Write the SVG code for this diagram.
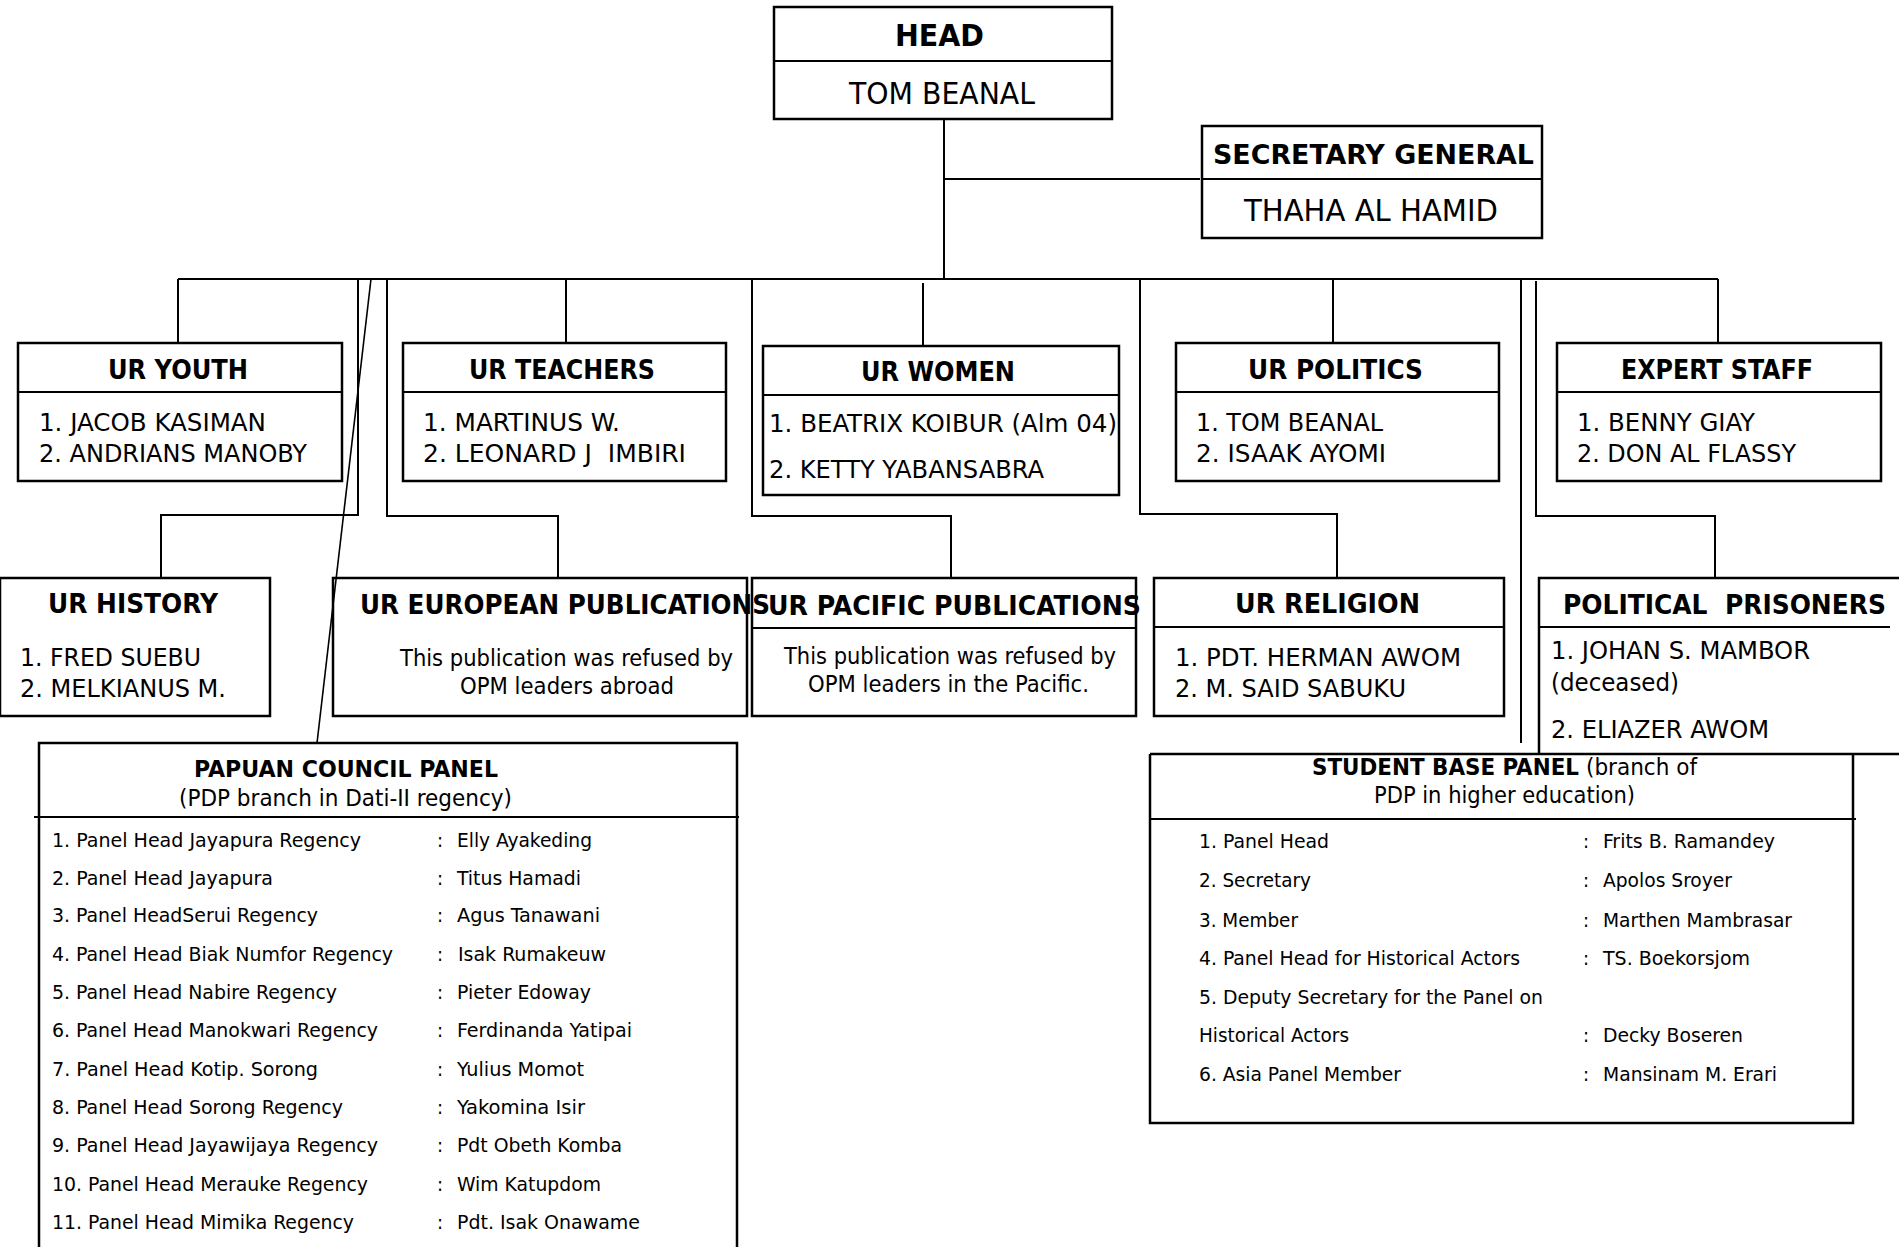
<svg xmlns="http://www.w3.org/2000/svg" width="1899" height="1247" viewBox="0 0 1899 1247">
<style>
.box{fill:none;stroke:#000;stroke-width:2.5}
.ln{fill:none;stroke:#000;stroke-width:2}
.thin{fill:none;stroke:#000;stroke-width:1.6}
text{font-family:"DejaVu Sans Condensed","DejaVu Sans","Liberation Sans",sans-serif;fill:#000}
.b{font-weight:bold}
.t30{font-size:30px}
.t27{font-size:27px}
.t26{font-size:26px}
.t25{font-size:25.5px}
.t22{font-size:22.5px}
.t20{font-size:20px}
</style>
<rect width="1899" height="1247" fill="#fff"/>
<g id="connectors">
<path class="ln" d="M944 119V279M944 179H1200M178 279H1718"/>
<path class="ln" d="M178 279V343M566 279V343M923 283V346M1333 279V343M1718 279V343"/>
<path class="ln" d="M358 279V515H161V578"/>
<path class="thin" d="M371 279L317 743"/>
<path class="ln" d="M387 279V516H558V578"/>
<path class="ln" d="M752 279V516H951V578"/>
<path class="ln" d="M1140 279V514H1337V578"/>
<path class="ln" d="M1521 279V743"/>
<path class="ln" d="M1536 281V516H1715V578"/>
</g>
<g id="head">
<rect class="box" x="774" y="7" width="338" height="112"/>
<path class="ln" d="M774 61H1112"/>
<text class="b t30" x="895" y="46" textLength="89" lengthAdjust="spacingAndGlyphs">HEAD</text>
<text class="t30" x="849" y="104" textLength="186" lengthAdjust="spacingAndGlyphs">TOM BEANAL</text>
</g>
<g id="secretary-general">
<rect class="box" x="1202" y="126" width="340" height="112"/>
<path class="ln" d="M1202 179H1542"/>
<text class="b t27" x="1213" y="164" textLength="321" lengthAdjust="spacingAndGlyphs">SECRETARY GENERAL</text>
<text class="t30" x="1244" y="221" textLength="254" lengthAdjust="spacingAndGlyphs">THAHA AL HAMID</text>
</g>
<g id="ur-youth">
<rect class="box" x="18" y="343" width="324" height="138"/>
<path class="ln" d="M18 392H342"/>
<text class="b t26" x="108" y="379" textLength="140" lengthAdjust="spacingAndGlyphs">UR YOUTH</text>
<text class="t25" x="39" y="431" textLength="227" lengthAdjust="spacingAndGlyphs">1. JACOB KASIMAN</text>
<text class="t25" x="39" y="462" textLength="268" lengthAdjust="spacingAndGlyphs">2. ANDRIANS MANOBY</text>
</g>
<g id="ur-teachers">
<rect class="box" x="403" y="343" width="323" height="138"/>
<path class="ln" d="M403 392H726"/>
<text class="b t26" x="469" y="379" textLength="186" lengthAdjust="spacingAndGlyphs">UR TEACHERS</text>
<text class="t25" x="423" y="431" textLength="197" lengthAdjust="spacingAndGlyphs">1. MARTINUS W.</text>
<text class="t25" x="423" y="462" textLength="263" lengthAdjust="spacingAndGlyphs" xml:space="preserve">2. LEONARD J  IMBIRI</text>
</g>
<g id="ur-women">
<rect class="box" x="763" y="346" width="356" height="149"/>
<path class="ln" d="M763 395H1119"/>
<text class="b t26" x="861" y="381" textLength="154" lengthAdjust="spacingAndGlyphs">UR WOMEN</text>
<text class="t25" x="769" y="432" textLength="348" lengthAdjust="spacingAndGlyphs">1. BEATRIX KOIBUR (Alm 04)</text>
<text class="t25" x="769" y="478" textLength="275" lengthAdjust="spacingAndGlyphs">2. KETTY YABANSABRA</text>
</g>
<g id="ur-politics">
<rect class="box" x="1176" y="343" width="323" height="138"/>
<path class="ln" d="M1176 392H1499"/>
<text class="b t26" x="1248" y="379" textLength="175" lengthAdjust="spacingAndGlyphs">UR POLITICS</text>
<text class="t25" x="1196" y="431" textLength="187" lengthAdjust="spacingAndGlyphs">1. TOM BEANAL</text>
<text class="t25" x="1196" y="462" textLength="190" lengthAdjust="spacingAndGlyphs">2. ISAAK AYOMI</text>
</g>
<g id="expert-staff">
<rect class="box" x="1557" y="343" width="324" height="138"/>
<path class="ln" d="M1557 392H1881"/>
<text class="b t26" x="1621" y="379" textLength="192" lengthAdjust="spacingAndGlyphs">EXPERT STAFF</text>
<text class="t25" x="1577" y="431" textLength="178" lengthAdjust="spacingAndGlyphs">1. BENNY GIAY</text>
<text class="t25" x="1577" y="462" textLength="219" lengthAdjust="spacingAndGlyphs">2. DON AL FLASSY</text>
</g>
<g id="ur-history">
<rect class="box" x="0" y="578" width="270" height="138"/>
<text class="b t26" x="48" y="613" textLength="170" lengthAdjust="spacingAndGlyphs">UR HISTORY</text>
<text class="t25" x="20" y="666" textLength="181" lengthAdjust="spacingAndGlyphs">1. FRED SUEBU</text>
<text class="t25" x="20" y="697" textLength="206" lengthAdjust="spacingAndGlyphs">2. MELKIANUS M.</text>
</g>
<g id="ur-european-publications">
<rect class="box" x="333" y="578" width="414" height="138"/>
<text class="b t26" x="360" y="614" textLength="410" lengthAdjust="spacingAndGlyphs">UR EUROPEAN PUBLICATIONS</text>
<text class="t22" x="400" y="666" textLength="333" lengthAdjust="spacingAndGlyphs">This publication was refused by</text>
<text class="t22" x="460" y="694" textLength="214" lengthAdjust="spacingAndGlyphs">OPM leaders abroad</text>
</g>
<g id="ur-pacific-publications">
<rect class="box" x="752" y="578" width="384" height="138"/>
<path class="ln" d="M752 628H1136"/>
<text class="b t26" x="768" y="615" textLength="373" lengthAdjust="spacingAndGlyphs">UR PACIFIC PUBLICATIONS</text>
<text class="t22" x="784" y="664" textLength="332" lengthAdjust="spacingAndGlyphs">This publication was refused by</text>
<text class="t22" x="808" y="692" textLength="281" lengthAdjust="spacingAndGlyphs">OPM leaders in the Pacific.</text>
</g>
<g id="ur-religion">
<rect class="box" x="1154" y="578" width="350" height="138"/>
<path class="ln" d="M1154 627H1504"/>
<text class="b t26" x="1235" y="613" textLength="185" lengthAdjust="spacingAndGlyphs">UR RELIGION</text>
<text class="t25" x="1175" y="666" textLength="286" lengthAdjust="spacingAndGlyphs">1. PDT. HERMAN AWOM</text>
<text class="t25" x="1175" y="697" textLength="231" lengthAdjust="spacingAndGlyphs">2. M. SAID SABUKU</text>
</g>
<g id="political-prisoners">
<path class="box" d="M1539 754V578H1899"/>
<path class="ln" d="M1539 627H1890"/>
<text class="b t26" x="1563" y="614" textLength="323" lengthAdjust="spacingAndGlyphs" xml:space="preserve">POLITICAL  PRISONERS</text>
<text class="t25" x="1551" y="659" textLength="259" lengthAdjust="spacingAndGlyphs">1. JOHAN S. MAMBOR</text>
<text class="t25" x="1551" y="691" textLength="128" lengthAdjust="spacingAndGlyphs">(deceased)</text>
<text class="t25" x="1551" y="738" textLength="218" lengthAdjust="spacingAndGlyphs">2. ELIAZER AWOM</text>
</g>
<g id="papuan-council-panel">
<path class="box" d="M39 1250V743H737V1250"/>
<path class="ln" d="M34 817H739"/>
<text class="b t22" x="194" y="777" textLength="304" lengthAdjust="spacingAndGlyphs">PAPUAN COUNCIL PANEL</text>
<text class="t22" x="179" y="806" textLength="333" lengthAdjust="spacingAndGlyphs">(PDP branch in Dati-II regency)</text>
<g class="t20">
<text x="52" y="847" textLength="309" lengthAdjust="spacingAndGlyphs">1. Panel Head Jayapura Regency</text>
<text x="52" y="885" textLength="221" lengthAdjust="spacingAndGlyphs">2. Panel Head Jayapura</text>
<text x="52" y="922" textLength="266" lengthAdjust="spacingAndGlyphs">3. Panel HeadSerui Regency</text>
<text x="52" y="961" textLength="341" lengthAdjust="spacingAndGlyphs">4. Panel Head Biak Numfor Regency</text>
<text x="52" y="999" textLength="285" lengthAdjust="spacingAndGlyphs">5. Panel Head Nabire Regency</text>
<text x="52" y="1037" textLength="326" lengthAdjust="spacingAndGlyphs">6. Panel Head Manokwari Regency</text>
<text x="52" y="1076" textLength="266" lengthAdjust="spacingAndGlyphs">7. Panel Head Kotip. Sorong</text>
<text x="52" y="1114" textLength="291" lengthAdjust="spacingAndGlyphs">8. Panel Head Sorong Regency</text>
<text x="52" y="1152" textLength="326" lengthAdjust="spacingAndGlyphs">9. Panel Head Jayawijaya Regency</text>
<text x="52" y="1191" textLength="316" lengthAdjust="spacingAndGlyphs">10. Panel Head Merauke Regency</text>
<text x="52" y="1229" textLength="302" lengthAdjust="spacingAndGlyphs">11. Panel Head Mimika Regency</text>
<text x="437" y="847">:</text><text x="437" y="885">:</text><text x="437" y="922">:</text><text x="437" y="961">:</text><text x="437" y="999">:</text><text x="437" y="1037">:</text><text x="437" y="1076">:</text><text x="437" y="1114">:</text><text x="437" y="1152">:</text><text x="437" y="1191">:</text><text x="437" y="1229">:</text>
<text x="457" y="847" textLength="135" lengthAdjust="spacingAndGlyphs">Elly Ayakeding</text>
<text x="457" y="885" textLength="124" lengthAdjust="spacingAndGlyphs">Titus Hamadi</text>
<text x="457" y="922" textLength="143" lengthAdjust="spacingAndGlyphs">Agus Tanawani</text>
<text x="458" y="961" textLength="148" lengthAdjust="spacingAndGlyphs">Isak Rumakeuw</text>
<text x="457" y="999" textLength="134" lengthAdjust="spacingAndGlyphs">Pieter Edoway</text>
<text x="457" y="1037" textLength="175" lengthAdjust="spacingAndGlyphs">Ferdinanda Yatipai</text>
<text x="457" y="1076" textLength="127" lengthAdjust="spacingAndGlyphs">Yulius Momot</text>
<text x="457" y="1114" textLength="128" lengthAdjust="spacingAndGlyphs">Yakomina Isir</text>
<text x="457" y="1152" textLength="165" lengthAdjust="spacingAndGlyphs">Pdt Obeth Komba</text>
<text x="457" y="1191" textLength="144" lengthAdjust="spacingAndGlyphs">Wim Katupdom</text>
<text x="457" y="1229" textLength="183" lengthAdjust="spacingAndGlyphs">Pdt. Isak Onawame</text>
</g>
</g>
<g id="student-base-panel">
<path class="box" d="M1150 754H1899M1150 754V1123H1853V754"/>
<path class="ln" d="M1150 819H1856"/>
<text class="b t22" x="1312" y="775" textLength="267" lengthAdjust="spacingAndGlyphs">STUDENT BASE PANEL</text>
<text class="t22" x="1586" y="775" textLength="111" lengthAdjust="spacingAndGlyphs">(branch of</text>
<text class="t22" x="1374" y="803" textLength="261" lengthAdjust="spacingAndGlyphs">PDP in higher education)</text>
<g class="t20">
<text x="1199" y="848" textLength="130" lengthAdjust="spacingAndGlyphs">1. Panel Head</text>
<text x="1199" y="887" textLength="112" lengthAdjust="spacingAndGlyphs">2. Secretary</text>
<text x="1199" y="927" textLength="99" lengthAdjust="spacingAndGlyphs">3. Member</text>
<text x="1199" y="965" textLength="321" lengthAdjust="spacingAndGlyphs">4. Panel Head for Historical Actors</text>
<text x="1199" y="1004" textLength="344" lengthAdjust="spacingAndGlyphs">5. Deputy Secretary for the Panel on</text>
<text x="1199" y="1042" textLength="150" lengthAdjust="spacingAndGlyphs">Historical Actors</text>
<text x="1199" y="1081" textLength="202" lengthAdjust="spacingAndGlyphs">6. Asia Panel Member</text>
<text x="1583" y="848">:</text><text x="1583" y="887">:</text><text x="1583" y="927">:</text><text x="1583" y="965">:</text><text x="1583" y="1042">:</text><text x="1583" y="1081">:</text>
<text x="1603" y="848" textLength="172" lengthAdjust="spacingAndGlyphs">Frits B. Ramandey</text>
<text x="1603" y="887" textLength="129" lengthAdjust="spacingAndGlyphs">Apolos Sroyer</text>
<text x="1603" y="927" textLength="189" lengthAdjust="spacingAndGlyphs">Marthen Mambrasar</text>
<text x="1603" y="965" textLength="147" lengthAdjust="spacingAndGlyphs">TS. Boekorsjom</text>
<text x="1603" y="1042" textLength="140" lengthAdjust="spacingAndGlyphs">Decky Boseren</text>
<text x="1603" y="1081" textLength="174" lengthAdjust="spacingAndGlyphs">Mansinam M. Erari</text>
</g>
</g>
</svg>
